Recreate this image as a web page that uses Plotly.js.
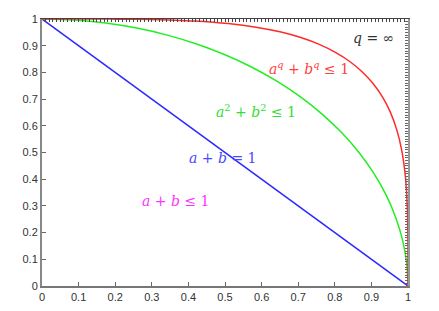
<!DOCTYPE html>
<html>
<head>
<meta charset="utf-8">
<script src="https://cdn.plot.ly/plotly-3.0.1.min.js"></script>
<style>html,body{margin:0;padding:0;background:#fff;}#chart{width:439px;height:311px;}</style>
</head>
<body>
<div id="chart"></div>
<script>
// a + b = 1
const lineA = [0, 1];
const lineB = [1, 0];
// a^2 + b^2 = 1
const circA = [0, 0.0872, 0.1736, 0.2588, 0.3420, 0.4226, 0.5, 0.5736, 0.6428, 0.7071, 0.7660, 0.8192, 0.8660, 0.9063, 0.9397, 0.9659, 0.9848, 0.9962, 1];
const circB = [1, 0.9962, 0.9848, 0.9659, 0.9397, 0.9063, 0.8660, 0.8192, 0.7660, 0.7071, 0.6428, 0.5736, 0.5, 0.4226, 0.3420, 0.2588, 0.1736, 0.0872, 0];
// a^q + b^q = 1
const qA = [0, 0.0934, 0.1321, 0.1868, 0.2288, 0.2952, 0.3613, 0.4167, 0.5087, 0.5848, 0.6501, 0.7071, 0.7574, 0.8017, 0.8409, 0.8752, 0.9051, 0.9306, 0.9520, 0.9694, 0.9828, 0.9924, 0.9957, 0.9981, 0.9993, 0.9997, 0.9999, 1];
const qB = [1, 0.99998, 0.99992, 0.9997, 0.9993, 0.9981, 0.9957, 0.9924, 0.9828, 0.9694, 0.9520, 0.9306, 0.9051, 0.8752, 0.8409, 0.8017, 0.7574, 0.7071, 0.6501, 0.5848, 0.5087, 0.4167, 0.3613, 0.2952, 0.2288, 0.1868, 0.1321, 0];
const tickVals = [0, 0.1, 0.2, 0.3, 0.4, 0.5, 0.6, 0.7, 0.8, 0.9, 1];
const tickText = ['0', '0.1', '0.2', '0.3', '0.4', '0.5', '0.6', '0.7', '0.8', '0.9', '1'];

const traces = [
  {x: lineA, y: lineB, mode: 'lines', line: {color: '#2b2bff', width: 1.5}, hoverinfo: 'skip'},
  {x: circA, y: circB, mode: 'lines', line: {color: '#22ee22', width: 1.5, shape: 'spline'}, hoverinfo: 'skip'},
  {x: qA, y: qB, mode: 'lines', line: {color: '#ff2a2a', width: 1.5, shape: 'spline', smoothing: 0.6}, hoverinfo: 'skip'},
  {x: [0, 1], y: [0, 1], xaxis: 'x2', yaxis: 'y2', mode: 'markers', marker: {opacity: 0}, hoverinfo: 'skip'}
];

const serif = 'DejaVu Serif';
const sans = 'Arial';
const layout = {
  width: 439, height: 311,
  margin: {l: 42, r: 31, t: 19, b: 25},
  paper_bgcolor: '#fff', plot_bgcolor: '#fff',
  showlegend: false,
  xaxis: {range: [0, 1], tickvals: tickVals, ticktext: tickText, ticks: 'inside', ticklen: 4, tickcolor: '#666',
    showgrid: false, zeroline: false, showline: true, linecolor: '#777', linewidth: 2,
    tickfont: {family: sans, size: 11, color: '#333'}, fixedrange: true},
  yaxis: {range: [0, 1], tickvals: tickVals, ticktext: tickText, ticks: 'inside', ticklen: 4, tickcolor: '#666',
    showgrid: false, zeroline: false, showline: true, linecolor: '#888', linewidth: 2,
    tickfont: {family: sans, size: 11, color: '#333'}, fixedrange: true},
  xaxis2: {range: [0, 1], overlaying: 'x', side: 'top', dtick: 0.01, tick0: 0, ticks: 'inside', ticklen: 3, tickcolor: '#444',
    showticklabels: false, showgrid: false, zeroline: false, showline: true, linecolor: '#444', linewidth: 1},
  yaxis2: {range: [0, 1], overlaying: 'y', side: 'right', dtick: 0.01, tick0: 0, ticks: 'inside', ticklen: 3, tickcolor: '#666',
    showticklabels: false, showgrid: false, zeroline: false, showline: true, linecolor: '#999', linewidth: 2},
  annotations: [
    {x: 0.907, y: 0.93, text: '<i>q</i> = ∞', showarrow: false, font: {family: serif, size: 14, color: '#333'}},
    {x: 0.73, y: 0.817, text: '<i>a</i><sup><i>q</i></sup> + <i>b</i><sup><i>q</i></sup> ≤ 1', showarrow: false, font: {family: serif, size: 14, color: '#ff4040'}},
    {x: 0.586, y: 0.657, text: '<i>a</i><sup>2</sup> + <i>b</i><sup>2</sup> ≤ 1', showarrow: false, font: {family: serif, size: 14, color: '#33dd33'}},
    {x: 0.495, y: 0.48, text: '<i>a</i> + <i>b</i> = 1', showarrow: false, font: {family: serif, size: 14, color: '#4848ff'}},
    {x: 0.365, y: 0.318, text: '<i>a</i> + <i>b</i> ≤ 1', showarrow: false, font: {family: serif, size: 14, color: '#ff33ff'}}
  ]
};
Plotly.newPlot('chart', traces, layout, {displayModeBar: false, staticPlot: true});
</script>
</body>
</html>
